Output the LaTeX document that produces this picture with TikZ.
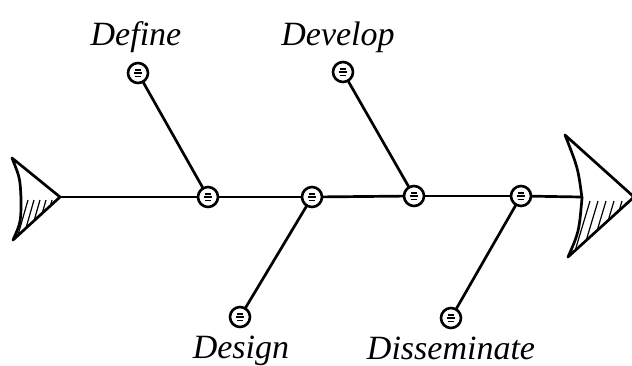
\documentclass[tikz,border=0pt]{standalone}
\usepackage{fontspec}
\setmainfont{Liberation Serif}
\begin{document}
\begin{tikzpicture}[x=1pt,y=-1pt,
  ink/.style={line width=2.7pt, line cap=round, line join=round},
  ball/.style={circle, draw, line width=2.6pt, fill=white, minimum size=20pt, inner sep=0pt,
    path picture={
      \draw[line width=1.6pt] ([xshift=-3.4pt,yshift=3.3pt]path picture bounding box.center) -- ++(6.8pt,0);
      \draw[line width=1.8pt] ([xshift=-4.4pt]path picture bounding box.center) -- ++(8.8pt,0);
      \draw[line width=1.6pt] ([xshift=-3.4pt,yshift=-3.3pt]path picture bounding box.center) -- ++(6.8pt,0);
    }},
  lab/.style={font=\fontsize{34}{40}\selectfont\itshape, anchor=base, inner sep=0pt},
  hatch/.style={line width=1.2pt}
]
\useasboundingbox (0,0) rectangle (632,365);

% tail
\draw[ink] (12,158) -- (60,197) -- (13,240) .. controls (21,222) .. (21,198) .. controls (20,178) .. cycle;
\begin{scope}
  \clip (21,200) -- (58,199) -- (13,240) -- cycle;
  \foreach \x in {28,34,40,46,52} \draw[hatch] (\x,200) -- ++(-12,42);
\end{scope}
\coordinate (tail) at (60,197);

% head
\draw[ink] (565,135) -- (634,197) -- (568,257) .. controls (579,232) .. (582,198) .. controls (578,168) .. cycle;
\begin{scope}
  \clip (582,201) -- (634,199) -- (568,257) -- cycle;
  \foreach \x in {590,598,606,614,622,630} \draw[hatch] (\x,201) -- ++(-18,60);
\end{scope}
\coordinate (head) at (582,197);

% spine circles
\node[ball] (m1) at (208,197) {};
\node[ball] (m2) at (312,197) {};
\node[ball] (m3) at (414,196) {};
\node[ball] (m4) at (521,196) {};

% branch circles
\node[ball] (b1) at (138,73) {};
\node[ball] (b2) at (343,72) {};
\node[ball] (b3) at (240,317) {};
\node[ball] (b4) at (451,318) {};

% spine
\draw[ink] (tail) -- (m1);
\draw[ink] (m1) -- (m2);
\draw[ink] (m2) -- (m3);
\draw[ink] (m3) -- (m4);
\draw[ink] (m4) -- (head);

% branches
\draw[ink] (b1) -- (m1);
\draw[ink] (b2) -- (m3);
\draw[ink] (b3) -- (m2);
\draw[ink] (b4) -- (m4);

% labels
\node[lab] (l1) at (136,45) {Define};
\node[lab] (l2) at (338,45) {Develop};
\node[lab] (l3) at (241,358) {Design};
\node[lab] (l4) at (451,359) {Disseminate};
\end{tikzpicture}
\end{document}
